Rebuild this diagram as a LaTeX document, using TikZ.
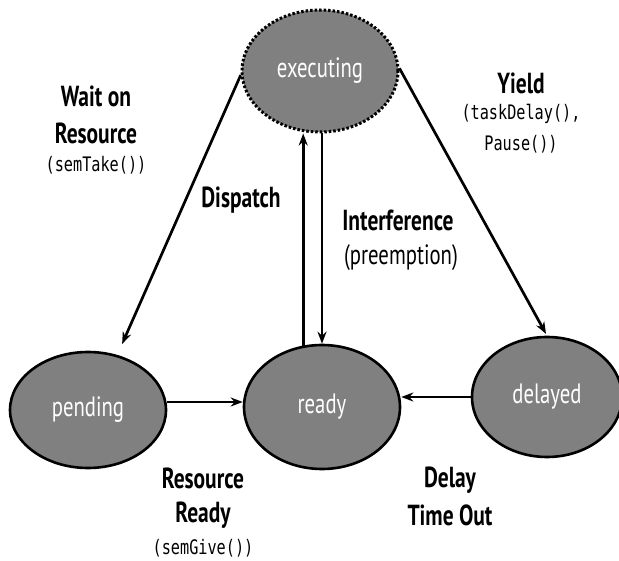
\documentclass[tikz,border=0pt]{standalone}
\usepackage{fontspec}
\setmainfont[FakeStretch=0.74]{PT Sans}
\newfontfamily\monof[FakeStretch=0.76]{DejaVu Sans Mono}
\usetikzlibrary{arrows.meta,shapes.geometric}
\definecolor{stategray}{RGB}{128,128,128}
\tikzset{
  state/.style={ellipse, draw=black, line width=2.6pt, fill=stategray, text=white,
    inner sep=0pt, font=\fontsize{28}{30}\selectfont},
  arr/.style={line width=2.7pt, -{Stealth[length=12pt,width=9pt]}},
  lbl/.style={font=\fontsize{29}{33}\selectfont\bfseries, align=center, inner sep=0pt},
  reg/.style={font=\fontsize{28}{30}\selectfont, align=center, inner sep=0pt},
  mono/.style={font=\fontsize{20}{29}\selectfont\monof, align=center, inner sep=0pt}
}
\begin{document}
\begin{tikzpicture}[x=1pt,y=-1pt]
\useasboundingbox (0,0) rectangle (619,561);
\node[state, minimum width=156pt, minimum height=122pt,
  dash pattern=on 2.5pt off 2pt, line width=3pt] (exec) at (320,71) {executing};
\node[state, minimum width=156pt, minimum height=116pt] (pend) at (88,410) {pending};
\node[state, minimum width=156pt, minimum height=124pt] (ready) at (322,407) {ready};
\node[state, minimum width=150pt, minimum height=120pt] (del) at (547,397) {delayed};

\draw[arr, shorten >=12pt] (exec.183) -- (pend.62);
\draw[arr, shorten >=2pt] (exec.2) -- (del.north);
\draw[arr] (ready.107) -- (ready.107 |- exec.south);
\draw[arr] (ready.north |- exec.south) -- (ready.north);
\draw[arr] ([yshift=8pt]pend.east) -- ([yshift=8pt]pend.east -| ready.west);
\draw[arr] (del.west) -- (del.west -| ready.east);

\node[lbl] (wait) at (96,96) {Wait on};
\node[lbl] (wres) at (96,133) {Resource};
\node[mono] (wsem) at (96,165) {(semTake())};

\node[lbl] (yield) at (521,83) {Yield};
\node[mono] (ytd) at (521,114) {(taskDelay(),};
\node[mono] (yp) at (521,144) {Pause())};

\node[lbl] (disp) at (241,200) {Dispatch};
\node[lbl] (intf) at (398,220) {Interference};
\node[reg] (pre) at (401,258) {(preemption)};

\node[lbl] (rres) at (203,478) {Resource};
\node[lbl] (rrdy) at (203,515) {Ready};
\node[mono] (rsem) at (203,548) {(semGive())};

\node[lbl] (dly) at (450,480) {Delay};
\node[lbl] (tout) at (450,515) {Time Out};
\end{tikzpicture}
\end{document}
